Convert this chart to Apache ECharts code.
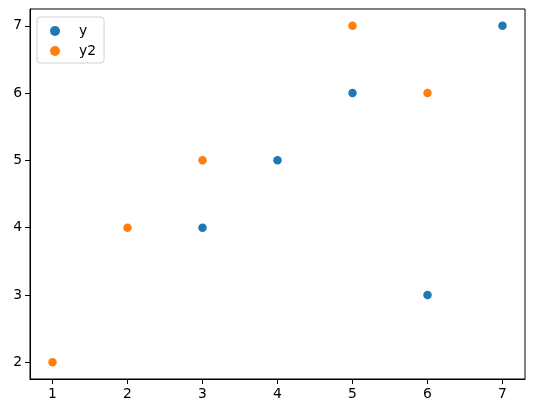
<!DOCTYPE html>
<html><head><meta charset="utf-8">
<script src="https://cdn.jsdelivr.net/npm/echarts@6/dist/echarts.min.js"></script>
<style>html,body{margin:0;padding:0;background:#fff}#c{width:534px;height:413px}</style>
</head><body><div id="c"></div>
<script>
const xTicks = [1, 2, 3, 4, 5, 6, 7];
const yTicks = [2, 3, 4, 5, 6, 7];
const xY = [3, 4, 5, 6, 7];
const yVals = [4, 5, 6, 3, 7];
const xY2 = [1, 2, 3, 5, 6];
const y2Vals = [2, 4, 5, 7, 6];

const font = 'DejaVu Sans';
const chart = echarts.init(document.getElementById('c'), null, {renderer: 'canvas'});
const axisCommon = {
  type: 'value',
  splitLine: {show: false},
  axisLine: {show: true, onZero: false, lineStyle: {color: '#000', width: 1}},
  axisTick: {show: true, length: 5, lineStyle: {color: '#000'}},
  axisLabel: {color: '#000', fontFamily: font, fontSize: 13.9, margin: 8}
};
chart.setOption({
  animation: false,
  grid: {left: 30, right: 9, top: 9, bottom: 34, show: true, borderColor: '#000', borderWidth: 1},
  xAxis: Object.assign({}, axisCommon, {
    min: 0.7, max: 7.3,
    axisTick: Object.assign({}, axisCommon.axisTick, {customValues: xTicks}),
    axisLabel: Object.assign({}, axisCommon.axisLabel, {customValues: xTicks})
  }),
  yAxis: Object.assign({}, axisCommon, {
    min: 1.75, max: 7.25,
    axisTick: Object.assign({}, axisCommon.axisTick, {customValues: yTicks}),
    axisLabel: Object.assign({}, axisCommon.axisLabel, {customValues: yTicks})
  }),
  legend: {
    left: 37, top: 17, orient: 'vertical',
    backgroundColor: 'rgba(255,255,255,0.8)', borderColor: '#d0d0d0', borderWidth: 1, borderRadius: 3,
    padding: [7, 8, 5, 13], itemGap: 6, itemWidth: 10, itemHeight: 10, icon: 'circle',
    textStyle: {fontFamily: font, fontSize: 13.9, color: '#000', padding: [0, 0, 0, 14]},
    data: ['y', 'y2']
  },
  series: [
    {name: 'y', type: 'scatter', symbolSize: 8.5, itemStyle: {color: '#1f77b4', opacity: 1},
     data: xY.map((x, i) => [x, yVals[i]])},
    {name: 'y2', type: 'scatter', symbolSize: 8.5, itemStyle: {color: '#ff7f0e', opacity: 1},
     data: xY2.map((x, i) => [x, y2Vals[i]])}
  ]
});
</script></body></html>
